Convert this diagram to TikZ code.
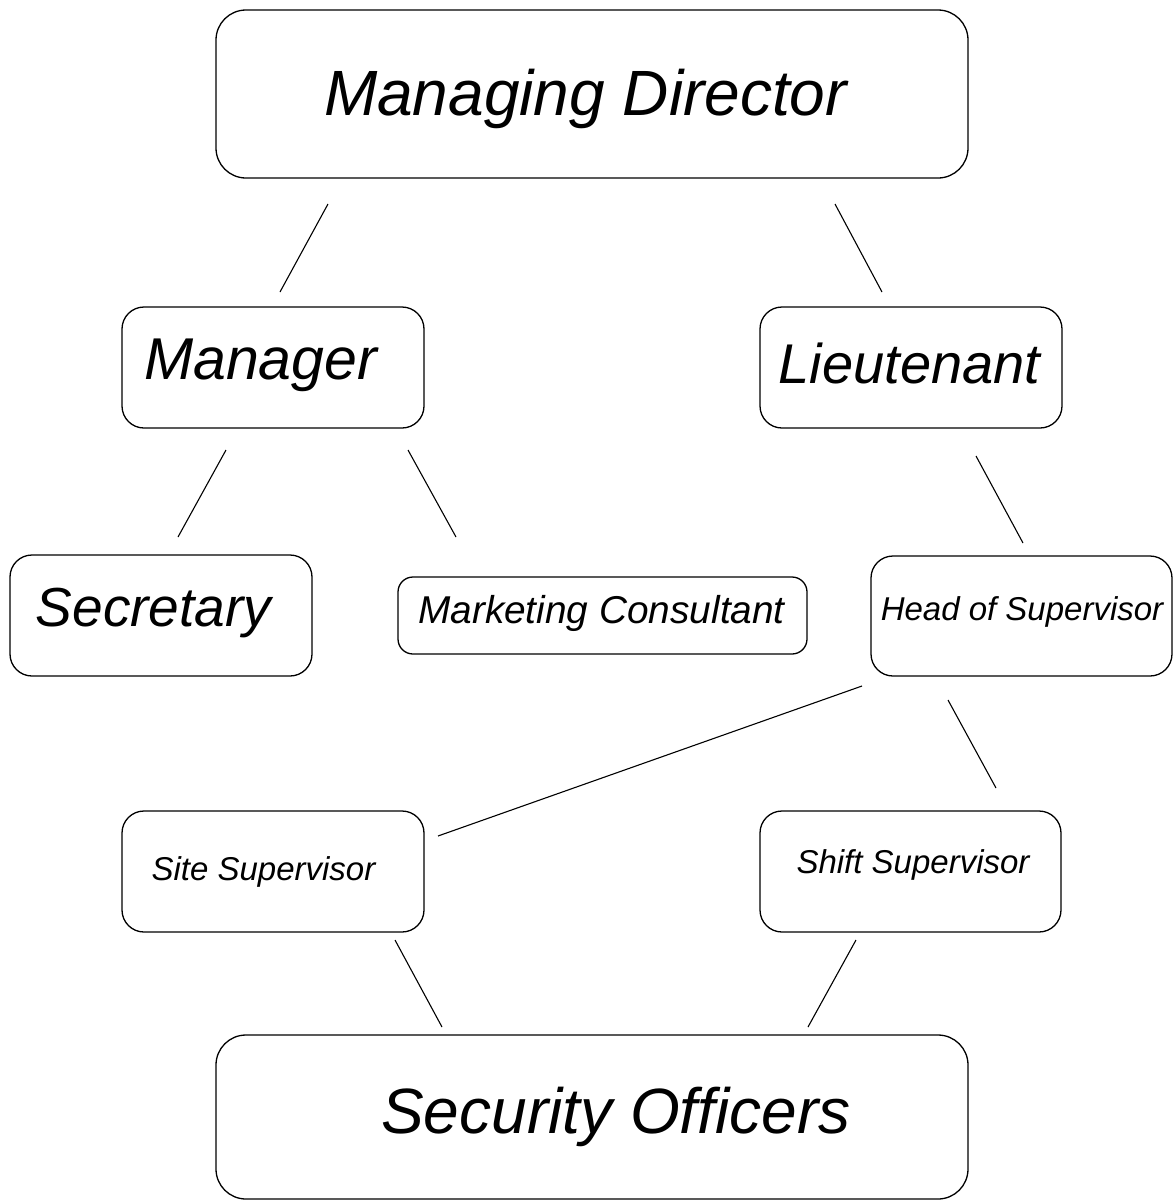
\documentclass[tikz,border=0pt]{standalone}
\usepackage{fontspec}
\setmainfont{Liberation Sans}
\begin{document}
\begin{tikzpicture}[x=1pt,y=-1pt,
  box/.style={draw=black, line width=1.3pt, rounded corners=22pt, inner sep=0pt},
  bigbox/.style={box, rounded corners=30pt},
  smallbox/.style={box, rounded corners=15pt},
  lbl/.style={inner sep=0pt, anchor=base, font=\itshape},
  link/.style={draw=black, line width=1.1pt}]
\useasboundingbox (0,0) rectangle (1174,1200);
\fill[white] (0,0) rectangle (1174,1200);
% boxes
\node[bigbox, minimum width=752pt, minimum height=168pt] (md) at (592,94) {};
\node[box, minimum width=302pt, minimum height=121pt] (mgr) at (273,367.5) {};
\node[box, minimum width=302pt, minimum height=121pt] (lt) at (911,367.5) {};
\node[box, minimum width=302pt, minimum height=121pt] (sec) at (161,615.5) {};
\node[smallbox, minimum width=409pt, minimum height=77pt] (mc) at (602.5,615.5) {};
\node[box, minimum width=301pt, minimum height=120pt] (hos) at (1021.5,616) {};
\node[box, minimum width=302pt, minimum height=121pt] (site) at (273,871.5) {};
\node[box, minimum width=301pt, minimum height=121pt] (shift) at (910.5,871.5) {};
\node[bigbox, minimum width=752pt, minimum height=164pt] (so) at (592,1117) {};
% labels
\node[lbl, font=\itshape\fontsize{64}{64}\selectfont] (mdt) at (585.5,115) {Managing Director};
\node[lbl, font=\itshape\fontsize{59}{59}\selectfont] (mgrt) at (260.5,379) {Manager};
\node[lbl, font=\itshape\fontsize{56}{56}\selectfont] (ltt) at (909.5,383) {Lieutenant};
\node[lbl, font=\itshape\fontsize{55}{55}\selectfont] (sect) at (153.5,626) {Secretary};
\node[lbl, font=\itshape\fontsize{38.8}{38.8}\selectfont] (mct) at (601.5,623) {Marketing Consultant};
\node[lbl, font=\itshape\fontsize{33}{33}\selectfont] (host) at (1022,620) {Head of Supervisor};
\node[lbl, font=\itshape\fontsize{33}{33}\selectfont] (sitet) at (263.5,880) {Site Supervisor};
\node[lbl, font=\itshape\fontsize{33}{33}\selectfont] (shiftt) at (913,873) {Shift Supervisor};
\node[lbl, font=\itshape\fontsize{64}{64}\selectfont] (sot) at (616,1133) {Security Officers};
% connector end points
\coordinate (a1) at (328,204); \coordinate (a2) at (280,292);
\coordinate (b1) at (835,204); \coordinate (b2) at (882,292);
\coordinate (c1) at (226,450); \coordinate (c2) at (178,537);
\coordinate (d1) at (408,450); \coordinate (d2) at (456,537);
\coordinate (e1) at (976,456); \coordinate (e2) at (1023,543);
\coordinate (f1) at (862,686); \coordinate (f2) at (438,836);
\coordinate (g1) at (948,700); \coordinate (g2) at (996,788);
\coordinate (h1) at (395,940); \coordinate (h2) at (442,1027);
\coordinate (i1) at (856,940); \coordinate (i2) at (808,1027);
% connectors
\draw[link] (a1) -- (a2);
\draw[link] (b1) -- (b2);
\draw[link] (c1) -- (c2);
\draw[link] (d1) -- (d2);
\draw[link] (e1) -- (e2);
\draw[link] (f1) -- (f2);
\draw[link] (g1) -- (g2);
\draw[link] (h1) -- (h2);
\draw[link] (i1) -- (i2);
\end{tikzpicture}
\end{document}
